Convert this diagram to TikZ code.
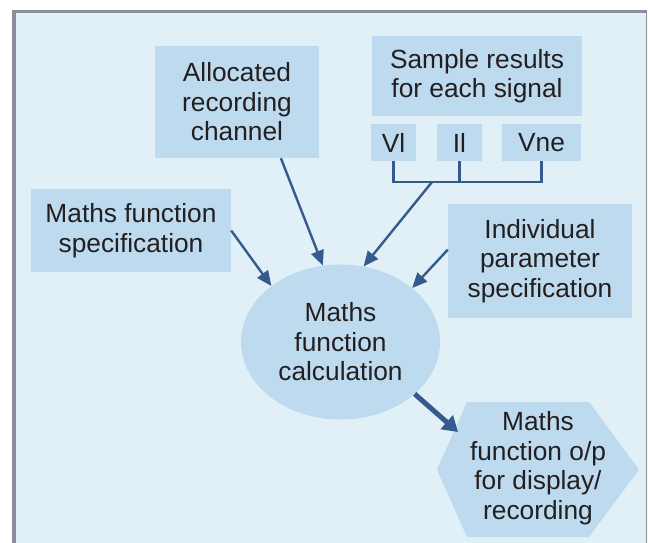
\documentclass[tikz,border=0pt]{standalone}
\usepackage{fontspec}
\setmainfont{Liberation Sans}
\usetikzlibrary{arrows.meta,shapes.geometric}
\definecolor{panelblue}{HTML}{E1EFF7}
\definecolor{edgegray}{HTML}{8B8E9C}
\definecolor{boxblue}{HTML}{BDDAEF}
\definecolor{arrblue}{HTML}{365A8D}
\definecolor{txt}{HTML}{231F20}
\begin{document}
\begin{tikzpicture}[x=1pt,y=-1pt,
        box/.style={
            rectangle,
            fill=boxblue,
            inner sep=0pt,
            align=center,
            text=txt,
            font=\fontsize{26.3}{29.5}\selectfont
        },
        feed/.style={draw=arrblue, line width=2.4pt, -{Triangle[length=15pt,width=13pt]}},
        bigfeed/.style={draw=arrblue, line width=5pt, -{Triangle[length=15pt,width=18pt]}}
    ]
        \useasboundingbox (0,0) rectangle (648,542);
        % Pannello di sfondo
        \fill[panelblue] (12,11) rectangle (646,560);
        \draw[edgegray, line width=3.5pt] (13.75,10) -- (13.75,560);
        \draw[edgegray, line width=2.5pt] (12,11.25) -- (647,11.25);
        \draw[edgegray, line width=1.5pt] (646.25,10) -- (646.25,560);

        % Blocchi di ingresso
        \node[box, minimum width=164, minimum height=112] (alloc) at (237,102) {Allocated\\recording\\channel};
        \node[box, minimum width=210, minimum height=80] (sample) at (477,76) {Sample results\\for each signal};
        \foreach \nm/\x/\w/\t in {vl/393.5/45/Vl, il/459.5/45/Il, vne/541.5/79/Vne} {
            \node[box, minimum width=\w, minimum height=37] (\nm) at (\x,142.5) {\t};
        }
        \node[box, minimum width=200, minimum height=83] (mspec) at (131,230.5) {Maths function\\specification};
        \node[box, minimum width=184, minimum height=114] (indiv) at (540,261) {Individual\\parameter\\specification};

        % Calcolo e uscita (esagono)
        \node[box, ellipse, minimum width=199, minimum height=155] (calc) at (340.5,342) {Maths\\function\\calculation};
        \fill[boxblue] (437,469.5) -- (467,402) -- (589,402) -- (639,469.5) -- (589,537) -- (467,537) -- cycle;
        \node[box, fill=none] (out) at (538,468) {Maths\\function o/p\\for display/\\recording};
        \coordinate (outedge) at (458,432);

        % Raccordo dei segnali
        \coordinate (bus) at (432,182);
        \draw[arrblue, line width=2.2pt] (vl.south) |- (bus) -| (vne.south);
        \draw[arrblue, line width=2.2pt] (il.south) -- (il.south |- bus);

        % Frecce verso il calcolo
        \draw[feed] (mspec.east) -- (calc.141);
        \draw[feed] (alloc.-52.5) -- (calc.103.5);
        \draw[feed] (bus) -- (calc.73);
        \draw[feed] (indiv.173) -- (calc.37);
        \draw[bigfeed] (calc.-35) -- (outedge);
    \end{tikzpicture}
\end{document}
